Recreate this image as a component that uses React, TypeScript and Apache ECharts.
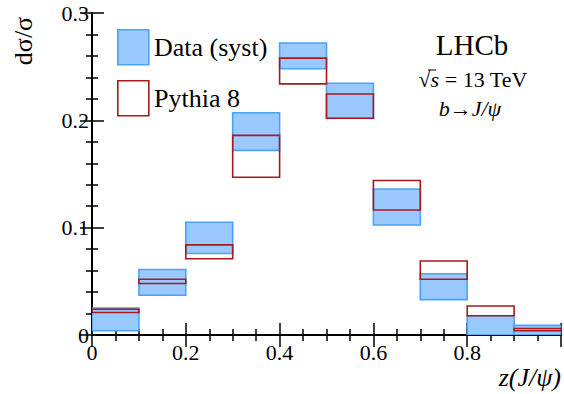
import React, { useEffect, useRef } from "react";
import * as echarts from "echarts";

const binLo = [0.0, 0.1, 0.2, 0.3, 0.4, 0.5, 0.6, 0.7, 0.8, 0.9];
const binHi = [0.1, 0.2, 0.3, 0.4, 0.5, 0.6, 0.7, 0.8, 0.9, 1.0];
const dataLow = [0.004, 0.037, 0.076, 0.172, 0.248, 0.202, 0.1025, 0.033, 0.0, 0.0];
const dataHigh = [0.025, 0.061, 0.105, 0.207, 0.272, 0.2345, 0.136, 0.057, 0.018, 0.009];
const pythiaLow = [0.021, 0.048, 0.071, 0.147, 0.234, 0.202, 0.1165, 0.052, 0.018, 0.004];
const pythiaHigh = [0.024, 0.052, 0.084, 0.186, 0.258, 0.2245, 0.144, 0.069, 0.027, 0.006];

const SERIF = "'Liberation Serif', 'DejaVu Serif', serif";
const BLUE_FILL = "#99c9ff";
const BLUE_EDGE = "#4aa3f7";
const RED = "#a8191c";

function boxRenderer(fill: string, stroke: string) {
  return (params: any, api: any) => {
    const p0 = api.coord([api.value(0), api.value(3)]);
    const p1 = api.coord([api.value(1), api.value(2)]);
    return {
      type: "rect",
      shape: { x: p0[0], y: p0[1], width: p1[0] - p0[0], height: p1[1] - p0[1] },
      style: { fill, stroke, lineWidth: 1.6 },
    };
  };
}

export default function App() {
  const ref = useRef<HTMLDivElement>(null);
  useEffect(() => {
    if (!ref.current) return;
    const chart = echarts.init(ref.current, undefined, { renderer: "svg" });
    const dataRows = binLo.map((lo, i) => [lo, binHi[i], dataLow[i], dataHigh[i]]);
    const pyRows = binLo.map((lo, i) => [lo, binHi[i], pythiaLow[i], pythiaHigh[i]]);
    const tickCommon = {
      axisLine: { show: true, lineStyle: { color: "#000", width: 2 } },
      axisTick: { show: true, inside: true, length: 12, lineStyle: { color: "#000", width: 1.5 } },
      minorTick: { show: true, length: 6, lineStyle: { color: "#000", width: 1.5 } },
      splitLine: { show: false },
    };
    chart.setOption({
      animation: false,
      grid: { left: 92, right: -3, top: 13, bottom: 59 },
      xAxis: [
        {
          type: "value", min: 0, max: 1, interval: 0.2, position: "bottom",
          ...tickCommon,
          minorTick: { ...tickCommon.minorTick, splitNumber: 4 },
          axisLabel: {
            fontSize: 22, fontFamily: SERIF, color: "#000", margin: 6,
            formatter: (v: number) => (v > 0.99 ? "" : String(+v.toFixed(1))),
          },
        },
        {
          type: "value", min: 0, max: 1, interval: 0.2, position: "top",
          ...tickCommon,
          minorTick: { ...tickCommon.minorTick, splitNumber: 4 },
          axisLabel: { show: false },
        },
      ],
      yAxis: [
        {
          type: "value", min: 0, max: 0.3, interval: 0.1, position: "left",
          ...tickCommon,
          minorTick: { ...tickCommon.minorTick, splitNumber: 5 },
          axisLabel: {
            fontSize: 22, fontFamily: SERIF, color: "#000", margin: 3,
            formatter: (v: number) => String(+v.toFixed(1)),
          },
        },
        {
          type: "value", min: 0, max: 0.3, interval: 0.1, position: "right",
          ...tickCommon,
          minorTick: { ...tickCommon.minorTick, splitNumber: 5 },
          axisLabel: { show: false },
        },
      ],
      series: [
        {
          name: "Data (syst)", type: "custom", xAxisIndex: 0, yAxisIndex: 0,
          renderItem: boxRenderer(BLUE_FILL, BLUE_EDGE),
          encode: { x: [0, 1], y: [2, 3] }, data: dataRows, clip: true, z: 2,
        },
        {
          name: "Pythia 8", type: "custom", xAxisIndex: 0, yAxisIndex: 0,
          renderItem: boxRenderer("none", RED),
          encode: { x: [0, 1], y: [2, 3] }, data: pyRows, clip: true, z: 3,
        },
      ],
      graphic: [
        { type: "rect", left: 117, top: 29, shape: { width: 31, height: 35 }, style: { fill: BLUE_FILL, stroke: BLUE_EDGE, lineWidth: 1.6 }, z: 10 },
        { type: "rect", left: 117, top: 80, shape: { width: 31, height: 35 }, style: { fill: "#fff", stroke: RED, lineWidth: 1.6 }, z: 10 },
        { type: "text", x: 154, y: 47, style: { text: "Data (syst)", font: `26px ${SERIF}`, fill: "#000", verticalAlign: "middle", align: "left" }, z: 10 },
        { type: "text", x: 154, y: 98, style: { text: "Pythia 8", font: `26px ${SERIF}`, fill: "#000", verticalAlign: "middle", align: "left" }, z: 10 },
        { type: "text", x: 472, y: 45, style: { text: "LHCb", font: `29px ${SERIF}`, fill: "#000", verticalAlign: "middle", align: "center" }, z: 10 },
        {
          type: "text", x: 473, y: 79, z: 10,
          style: {
            text: "{r|√}{s|s}{n| = 13 TeV}", align: "center", verticalAlign: "middle", fill: "#000",
            rich: {
              r: { fontFamily: SERIF, fontSize: 22, fill: "#000" },
              s: { fontFamily: SERIF, fontSize: 22, fontStyle: "italic", fill: "#000" },
              n: { fontFamily: SERIF, fontSize: 22, fill: "#000" },
            },
          },
        },
        { type: "line", shape: { x1: 428, y1: 70, x2: 436, y2: 70 }, style: { stroke: "#000", lineWidth: 1 }, z: 10 },
        {
          type: "text", x: 470, y: 108, z: 10,
          style: {
            text: "{i|b}{n|→}{i|J/ψ}", align: "center", verticalAlign: "middle", fill: "#000",
            rich: {
              i: { fontFamily: SERIF, fontSize: 22, fontStyle: "italic", fill: "#000" },
              n: { fontFamily: SERIF, fontSize: 22, fill: "#000" },
            },
          },
        },
        { type: "text", x: 23, y: 41, rotation: Math.PI / 2, style: { text: "dσ/σ", font: `26px ${SERIF}`, fill: "#000", verticalAlign: "middle", align: "center" }, z: 10 },
        { type: "text", x: 561, y: 377, style: { text: "z(J/ψ)", font: `italic 26px ${SERIF}`, fill: "#000", verticalAlign: "middle", align: "right" }, z: 10 },
      ],
    });
    return () => chart.dispose();
  }, []);
  return <div ref={ref} style={{ width: 564, height: 394, position: "absolute", left: 0, top: 0 }} />;
}
